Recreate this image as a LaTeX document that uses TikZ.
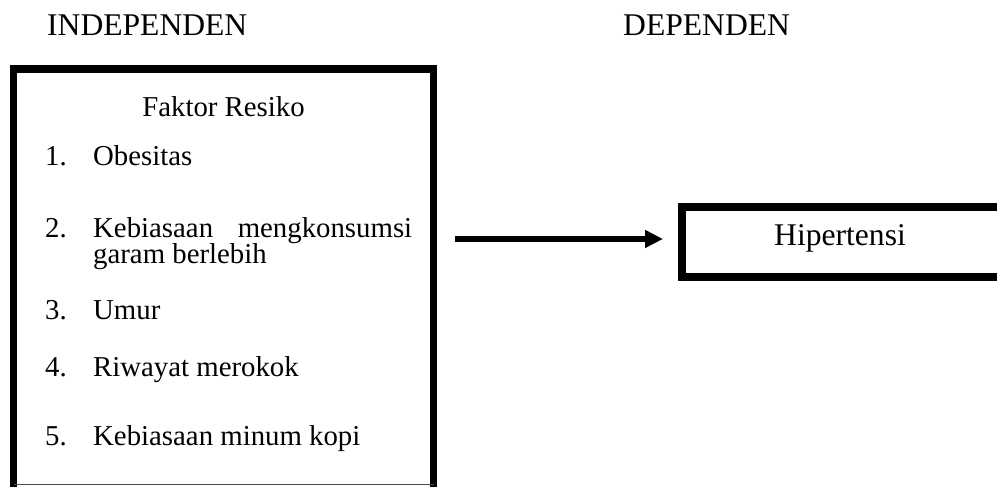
\documentclass[tikz,border=0pt]{standalone}
\usepackage{fontspec}
\setmainfont{Liberation Serif}
\usetikzlibrary{arrows.meta}
\tikzset{
  head/.style={inner sep=0pt, anchor=base west, font=\fontsize{31.6}{38}\selectfont},
  item/.style={inner sep=0pt, anchor=base west, font=\fontsize{28.8}{25}\selectfont},
  thickborder/.style={line width=7.5pt, line cap=butt, line join=miter},
  arrowline/.style={line width=6pt, -{Triangle[length=18pt,width=17pt]}}
}
\begin{document}
\begin{tikzpicture}[x=1pt,y=-1pt]
\useasboundingbox (0,0) rectangle (997,487);
% headings
\node[head] (ind) at (47,36) {INDEPENDEN};
\node[head] (dep) at (623,36) {DEPENDEN};
% left box
\coordinate (lbl) at (13.5,492);
\coordinate (ltl) at (13.5,69);
\coordinate (ltr) at (433.5,69);
\coordinate (lbr) at (433.5,492);
\draw[thickborder] (lbl) -- (ltl) -- (ltr) -- (lbr);
\coordinate (bl) at (13.5,484.5);
\coordinate (br) at (433.5,484.5);
\draw[line width=1pt, black!70] (bl) -- (br);
\node[item, anchor=base] (title) at (223.5,117) {Faktor Resiko};
\node[item] (n1) at (45,165) {1.};
\node[item] (t1) at (93,165) {Obesitas};
\node[item] (n2) at (45,237) {2.};
\node[item] (t2a) at (93,237) {\hbox to 319pt{Kebiasaan\hfill mengkonsumsi}};
\node[item] (t2b) at (93,263) {garam berlebih};
\node[item] (n3) at (45,319) {3.};
\node[item] (t3) at (93,319) {Umur};
\node[item] (n4) at (45,376) {4.};
\node[item] (t4) at (93,376) {Riwayat merokok};
\node[item] (n5) at (45,445) {5.};
\node[item] (t5) at (93,445) {Kebiasaan minum kopi};
% right box
\coordinate (rtr) at (1005,206.5);
\coordinate (rtl) at (681.5,206.5);
\coordinate (rbl) at (681.5,277);
\coordinate (rbr) at (1005,277);
\draw[line width=8pt, line join=miter] (rtr) -- (rtl) -- (rbl) -- (rbr);
\node[head, anchor=base] (hip) at (840,245) {Hipertensi};
% arrow
\coordinate (a1) at (455,239);
\coordinate (a2) at (663,239);
\draw[arrowline] (a1) -- (a2);
\end{tikzpicture}
\end{document}
